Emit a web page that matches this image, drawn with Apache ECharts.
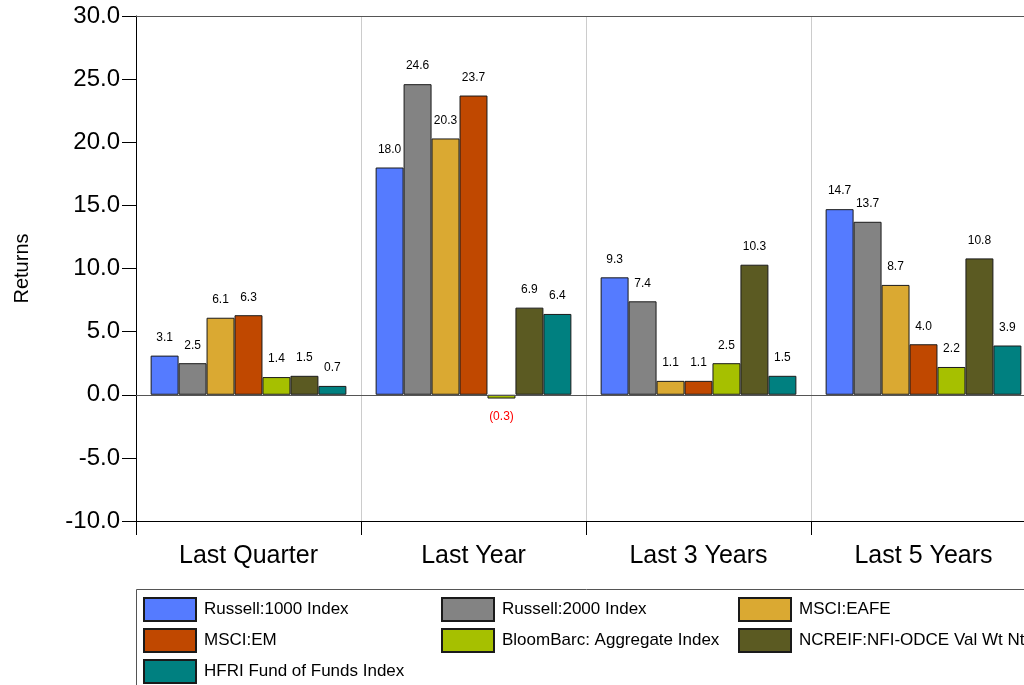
<!DOCTYPE html>
<html>
<head>
<meta charset="utf-8">
<script src="https://cdn.jsdelivr.net/npm/echarts@6/dist/echarts.min.js"></script>
<style>
  html, body { margin: 0; padding: 0; background: #fff; overflow: hidden; }
  /* the plot runs a little past the right edge of the window */
  #chart { width: 1040px; height: 685px; }
</style>
</head>
<body>
<div id="chart"></div>
<script>
// Periods shown along the x axis
const periods = ['Last Quarter', 'Last Year', 'Last 3 Years', 'Last 5 Years'];

// Index returns (%) per period
const russell1000 = [3.1, 18.0, 9.3, 14.7];
const russell2000 = [2.5, 24.6, 7.4, 13.7];
const msciEafe    = [6.1, 20.3, 1.1, 8.7];
const msciEm      = [6.3, 23.7, 1.1, 4.0];
const bloomAgg    = [1.4, -0.3, 2.5, 2.2];
const ncreif      = [1.5, 6.9, 10.3, 10.8];
const hfri        = [0.7, 6.4, 1.5, 3.9];

// Y axis range and step
const yMin = -10, yMax = 30, yStep = 5;

const seriesDefs = [
  { name: 'Russell:1000 Index',          data: russell1000, color: '#557BFF' },
  { name: 'Russell:2000 Index',          data: russell2000, color: '#838383' },
  { name: 'MSCI:EAFE',                   data: msciEafe,    color: '#DAA932' },
  { name: 'MSCI:EM',                     data: msciEm,      color: '#C04800' },
  { name: 'BloomBarc: Aggregate Index',  data: bloomAgg,    color: '#A6C000' },
  { name: 'NCREIF:NFI-ODCE Val Wt Nt',   data: ncreif,      color: '#5B5A22' },
  { name: 'HFRI Fund of Funds Index',    data: hfri,        color: '#008080' }
];

const FONT = '"Liberation Sans", Arial, Helvetica, sans-serif';

const series = seriesDefs.map((s, i) => ({
  name: s.name,
  type: 'bar',
  barGap: '0%',
  barCategoryGap: '13%',
  itemStyle: { color: s.color, borderColor: '#1a1a1a', borderWidth: 1 },
  data: s.data.map(v => ({
    value: v,
    label: v < 0 ? { position: 'bottom' } : undefined
  })),
  label: {
    show: true,
    position: 'top',
    distance: 12,
    fontFamily: FONT,
    fontSize: 12,
    color: '#000',
    formatter: p => p.value < 0
      ? '{neg|(' + Math.abs(p.value).toFixed(1) + ')}'
      : p.value.toFixed(1),
    rich: { neg: { color: '#FF0000', fontFamily: FONT, fontSize: 12 } }
  },
  markLine: i === 0 ? {
    silent: true,
    symbol: 'none',
    label: { show: false },
    lineStyle: { color: '#555', type: 'solid', width: 1 },
    data: [{ yAxis: 0 }, { yAxis: yMax }]
  } : undefined
}));

// Legend laid out as a 3-column table, one legend component per entry
const legendCols = [143, 441, 738];
const legendRowTop = 597, legendRowStep = 31;
const legends = seriesDefs.map((s, i) => ({
  left: legendCols[i % 3],
  top: legendRowTop + Math.floor(i / 3) * legendRowStep,
  padding: 0,
  itemWidth: 52,
  itemHeight: 23,
  icon: 'rect',
  selectedMode: false,
  data: [s.name],
  textStyle: { fontFamily: FONT, fontSize: 17, color: '#000', padding: [0, 0, 0, 3] }
}));

const chart = echarts.init(document.getElementById('chart'), null, { renderer: 'canvas' });
chart.setOption({
  animation: false,
  backgroundColor: '#fff',
  grid: { left: 136, top: 16, right: 4, bottom: 164, containLabel: false },
  xAxis: {
    type: 'category',
    data: periods,
    boundaryGap: true,
    axisLine: { onZero: false, lineStyle: { color: '#000', width: 1 } },
    axisTick: { show: true, length: 14, lineStyle: { color: '#000' } },
    axisLabel: { fontFamily: FONT, fontSize: 25, color: '#000', margin: 23 },
    splitLine: { show: true, lineStyle: { color: '#cccccc', width: 1 } }
  },
  yAxis: {
    type: 'value',
    min: yMin,
    max: yMax,
    interval: yStep,
    name: 'Returns',
    nameLocation: 'middle',
    nameGap: 104,
    nameTextStyle: { fontFamily: FONT, fontSize: 20, color: '#000' },
    axisLine: { show: true, lineStyle: { color: '#000', width: 1 } },
    axisTick: { show: true, length: 14, lineStyle: { color: '#000' } },
    axisLabel: {
      fontFamily: FONT, fontSize: 24, color: '#000', margin: 16,
      formatter: v => v.toFixed(1)
    },
    splitLine: { show: false }
  },
  legend: legends,
  graphic: [{
    type: 'rect',
    silent: true,
    z: 0,
    shape: { x: 136.5, y: 589.5, width: 900, height: 110 },
    style: { fill: 'none', stroke: '#555', lineWidth: 1 }
  }],
  series: series
});
</script>
</body>
</html>
